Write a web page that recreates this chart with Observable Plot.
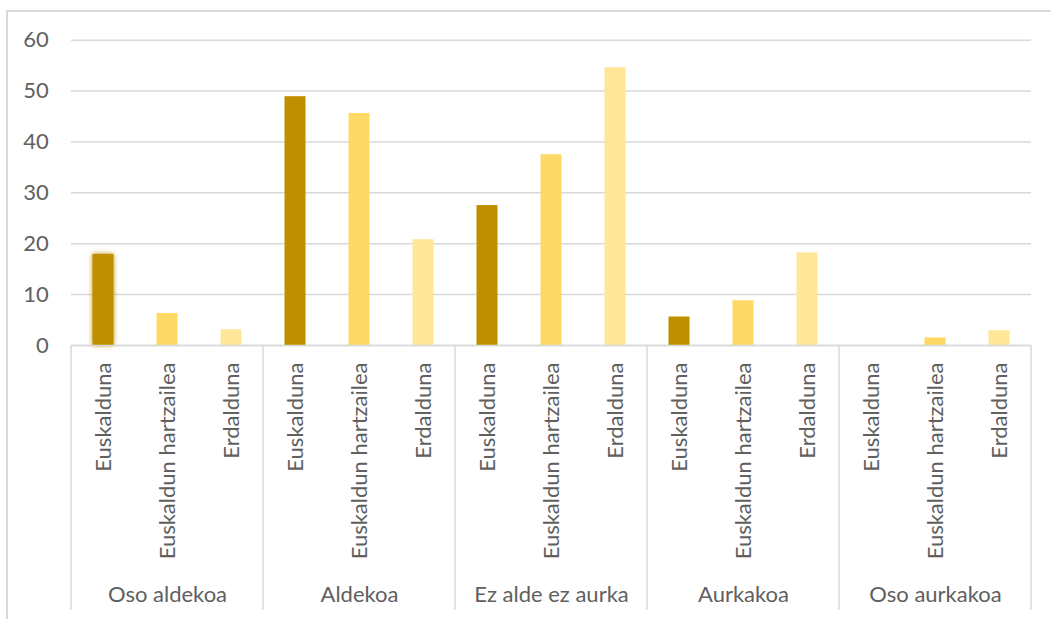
<!DOCTYPE html>
<html>
<head>
<meta charset="utf-8">
<script src="https://cdn.jsdelivr.net/npm/d3@7"></script>
<script src="https://cdn.jsdelivr.net/npm/@observablehq/plot@0.6"></script>
<style>
  html, body { margin: 0; padding: 0; background: #ffffff; }
  #wrap { position: relative; width: 1051px; height: 619px; overflow: hidden; }
  #border { position: absolute; left: 6px; top: 10px; width: 1100px; height: 700px;
            border-left: 2px solid #d9d9d9; border-top: 2px solid #d9d9d9; }
  #chart { position: absolute; left: 0; top: 0; }
</style>
</head>
<body>
<div id="wrap"><div id="border"></div><div id="chart"></div></div>
<script>
// Attitude groups along the axis and the three language profiles within each
const groups = ["Oso aldekoa", "Aldekoa", "Ez alde ez aurka", "Aurkakoa", "Oso aurkakoa"];
const series = ["Euskalduna", "Euskaldun hartzailea", "Erdalduna"];

// Percentages per group, one list per profile
const euskalduna = [17.9, 48.9, 27.5, 5.6, 0];
const hartzailea = [6.3, 45.6, 37.5, 8.8, 1.5];
const erdalduna = [3.1, 20.8, 54.6, 18.2, 2.9];

const yTicks = [0, 10, 20, 30, 40, 50, 60];
const colors = ["#bf8f00", "#ffd966", "#ffe699"];

// The bar drawn with a soft glow around it
const glowGroup = "Oso aldekoa";
const glowSeries = "Euskalduna";

const valuesBySeries = [euskalduna, hartzailea, erdalduna];
const rows = [];
groups.forEach((g, i) => {
  series.forEach((s, j) => rows.push({group: g, series: s, value: valuesBySeries[j][i]}));
});
const glowRows = rows.filter(d => d.group === glowGroup && d.series === glowSeries);

const grey = "#d9d9d9";
const textColor = "#606060";
const chart = Plot.plot({
  width: 1051,
  height: 619,
  marginLeft: 70.7,
  marginRight: 20.3,
  marginTop: 39.7,
  marginBottom: 274,
  style: {fontFamily: "Lato", fontSize: "22px", color: textColor, background: "transparent", overflow: "visible"},
  fx: {domain: groups, padding: 0, label: null},
  x: {domain: series, paddingInner: 0.672, paddingOuter: 0.336, round: false, label: null},
  y: {domain: [0, 60], label: null},
  color: {domain: series, range: colors},
  marks: [
    Plot.gridY(yTicks, {stroke: grey, strokeOpacity: 1, strokeWidth: 1.5}),
    Plot.axisY(yTicks, {tickSize: 0, tickPadding: 22.7, label: null, fill: textColor}),
    Plot.barY(glowRows, {fx: "group", x: "series", y: "value", fill: "series", imageFilter: "blur(2.5px)"}),
    Plot.barY(rows, {fx: "group", x: "series", y: "value", fill: "series"}),
    Plot.ruleY([0], {stroke: grey, strokeWidth: 1.5}),
    Plot.axisX({tickSize: 0, tickRotate: -90, tickPadding: 17, label: null, fill: textColor}),
    Plot.axisFx({anchor: "bottom", tickSize: 0, tickPadding: 241, label: null, fill: textColor})
  ]
});

// Vertical separators between the groups, below the baseline
const fx = chart.scale("fx");
const y = chart.scale("y");
const edges = groups.map(g => fx.apply(g)).concat(fx.apply(groups[groups.length - 1]) + fx.bandwidth);
d3.select(chart).append("g")
  .attr("stroke", grey)
  .attr("stroke-width", 1.5)
  .selectAll("line")
  .data(edges)
  .join("line")
  .attr("x1", d => d).attr("x2", d => d)
  .attr("y1", y.apply(0)).attr("y2", 610);

document.getElementById("chart").appendChild(chart);
</script>
</body>
</html>
